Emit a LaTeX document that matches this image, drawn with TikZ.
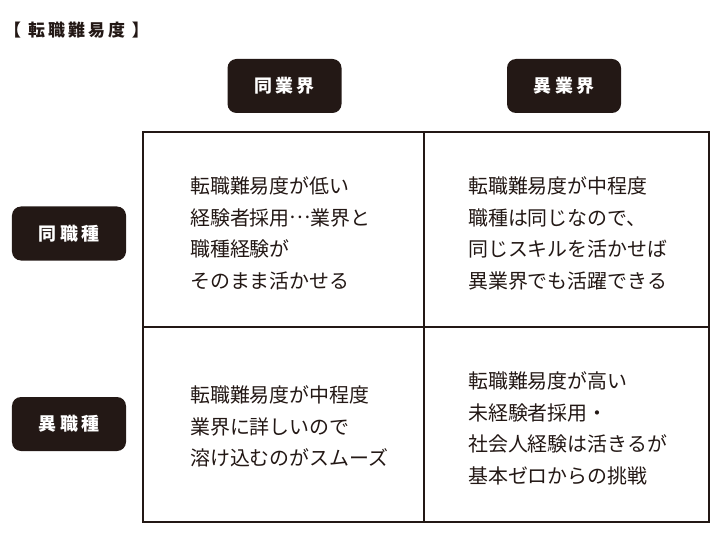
\documentclass[tikz,border=0pt]{standalone}
\usepackage{fontspec}
\newfontfamily\jp{Noto Sans CJK JP}
\newfontfamily\jpsp{Noto Sans CJK JP}[LetterSpace=18]
\newfontfamily\jpti{Noto Sans CJK JP}[LetterSpace=18]
\definecolor{ink}{HTML}{231815}
\newcommand{\midellip}{\raisebox{0.33em}{…}}
\begin{document}
\begin{tikzpicture}[x=1bp,y=-1bp,
  hdr/.style={fill=ink,rounded corners=9bp,minimum width=114bp,minimum height=54bp,inner sep=0pt,
    text=white,font={\jpsp\bfseries\fontsize{18}{18}\selectfont}},
  celltext/.style={anchor=west,align=left,inner sep=0pt,text=ink,
    font={\jp\fontsize{20}{31.7}\selectfont}},
  grid/.style={draw=ink,line width=2.6bp}]
\useasboundingbox (0,0) rectangle (720,540);
\node[anchor=west,inner sep=0pt,text=ink,font={\jpti\bfseries\fontsize{17}{17}\selectfont}] (title) at (4,30) {【 転職難易度 】};
\node[hdr] (h1) at (284.5,86) {同業界};
\node[hdr] (h2) at (564,86) {異業界};
\node[hdr] (r1) at (69,233.5) {同職種};
\node[hdr] (r2) at (69,424) {異職種};
\coordinate (tl) at (143,132);
\coordinate (br) at (709,522);
\coordinate (mt) at (424,132);
\coordinate (mb) at (424,522);
\coordinate (ml) at (143,327);
\coordinate (mr) at (709,327);
\draw[grid] (tl) rectangle (br);
\draw[grid] (mt) -- (mb);
\draw[grid] (ml) -- (mr);
\node[celltext] (c11) at (190,233.5) {転職難易度が低い\\経験者採用\midellip 業界と\\職種経験が\\そのまま活かせる};
\node[celltext] (c12) at (468,233.5) {転職難易度が中程度\\職種は同じなので、\\同じスキルを活かせば\\異業界でも活躍できる};
\node[celltext] (c21) at (190,426.5) {転職難易度が中程度\\業界に詳しいので\\溶け込むのがスムーズ};
\node[celltext] (c22) at (468,428.5) {転職難易度が高い\\未経験者採用・\\社会人経験は活きるが\\基本ゼロからの挑戦};
\end{tikzpicture}
\end{document}
